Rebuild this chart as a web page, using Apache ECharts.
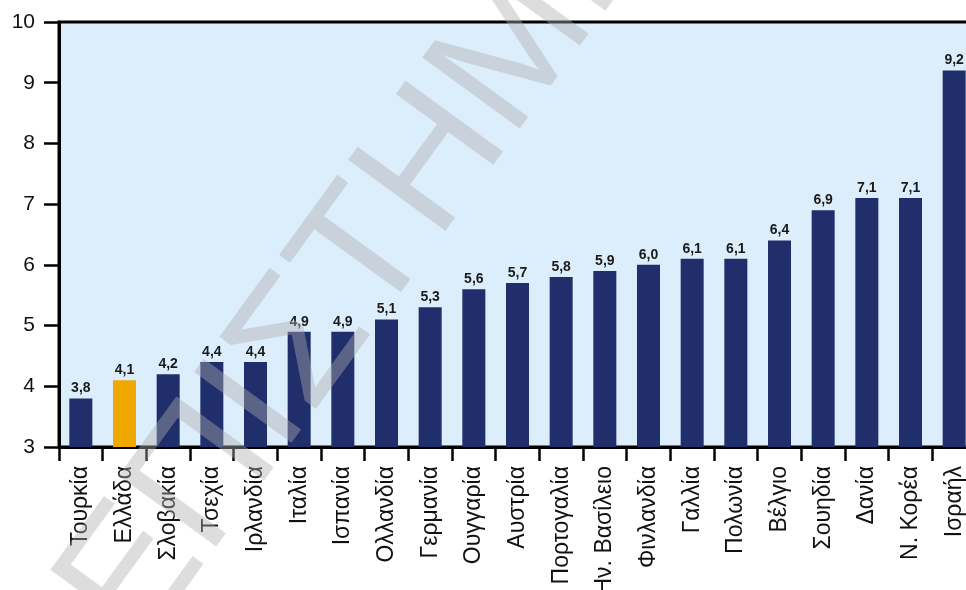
<!DOCTYPE html>
<html><head><meta charset="utf-8">
<script src="https://cdn.jsdelivr.net/npm/echarts@6/dist/echarts.min.js"></script>
<style>html,body{margin:0;padding:0;background:#fff;overflow:hidden}#c{width:966px;height:590px}</style>
</head><body><div id="c"></div>
<script>
const categories = ['Τουρκία','Ελλάδα','Σλοβακία','Τσεχία','Ιρλανδία','Ιταλία','Ισπανία','Ολλανδία','Γερμανία','Ουγγαρία','Αυστρία','Πορτογαλία','Ην. Βασίλειο','Φινλανδία','Γαλλία','Πολωνία','Βέλγιο','Σουηδία','Δανία','Ν. Κορέα','Ισραήλ'];
const values = [3.8,4.1,4.2,4.4,4.4,4.9,4.9,5.1,5.3,5.6,5.7,5.8,5.9,6.0,6.1,6.1,6.4,6.9,7.1,7.1,9.2];
const highlight = 'Ελλάδα';
const yTicks = [3,4,5,6,7,8,9,10];
const watermarkA = 'ΕΠΙΣΤ';
const watermarkB = 'ΗΜΗ';

const navy = '#202f6c', orange = '#f0a800';
const font = 'Liberation Sans, Arial, sans-serif';
const chart = echarts.init(document.getElementById('c'));
const rot = 54*Math.PI/180;
const wmStyle = {fontSize:175,fontFamily:font,fill:'rgba(175,175,175,0.42)',textVerticalAlign:'middle'};
chart.setOption({
  animation:false,
  grid:{left:59,top:22,bottom:143,width:917,outerBoundsMode:'none',containLabel:false,show:true,backgroundColor:'#dcedfb',borderColor:'#000',borderWidth:3},
  xAxis:{type:'category',data:categories,
    axisLine:{lineStyle:{color:'#000',width:3}},
    axisTick:{show:true,length:14,lineStyle:{color:'#000',width:2.5}},
    axisLabel:{rotate:90,margin:19,fontSize:23,color:'#111',fontFamily:font,interval:0}},
  yAxis:{type:'value',min:yTicks[0],max:yTicks[yTicks.length-1],interval:1,
    axisLine:{show:true,lineStyle:{color:'#000',width:3}},
    axisTick:{show:true,length:15,lineStyle:{color:'#000',width:2.5}},
    splitLine:{show:false},
    axisLabel:{margin:24,fontSize:21,color:'#111',fontFamily:font}},
  series:[{type:'bar',barWidth:23,
    data:values.map((v,i)=>({value:v,itemStyle:{color:categories[i]===highlight?orange:navy}})),
    label:{show:true,position:'top',distance:3,fontSize:14,fontWeight:'bold',color:'#1a1a1a',fontFamily:font,
      formatter:p=>p.value.toFixed(1).replace('.',',')}}],
  graphic:[
    {type:'text',x:398,y:214,rotation:rot,z:100,silent:true,
     style:Object.assign({text:watermarkA,textAlign:'right'},wmStyle)},
    {type:'text',x:398,y:214,rotation:rot,z:100,silent:true,
     style:Object.assign({text:watermarkB,textAlign:'left'},wmStyle)}
  ]
});
</script></body></html>
